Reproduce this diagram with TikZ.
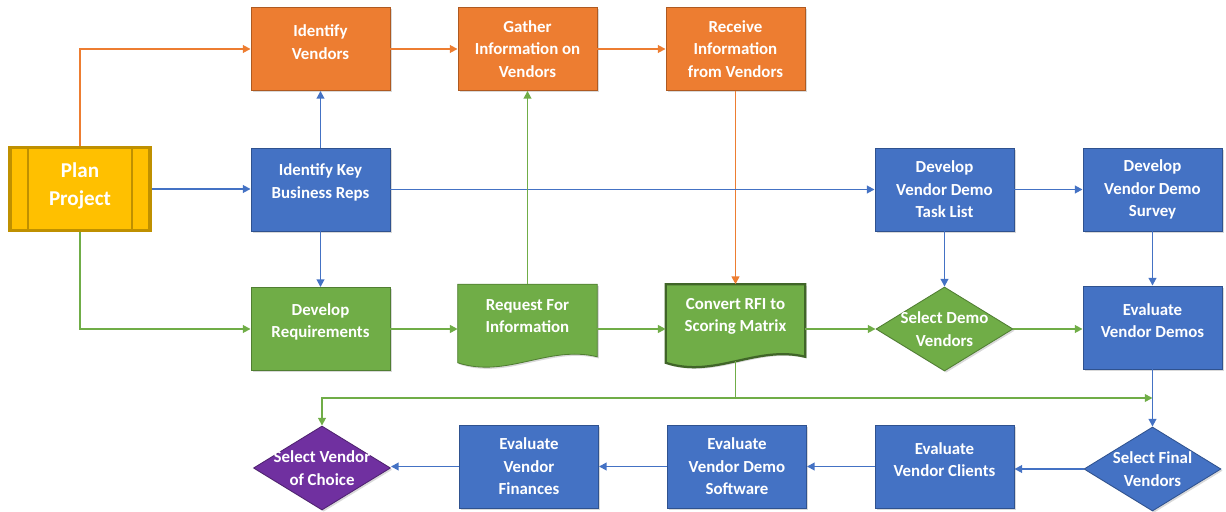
\documentclass[tikz,border=0pt]{standalone}
\usepackage{fontspec}
\setmainfont{Carlito}
\usetikzlibrary{shapes.geometric,arrows.meta,shadows,backgrounds,calc}

\definecolor{vorange}{HTML}{ED7D31}
\definecolor{vorangedk}{HTML}{AE5A21}
\definecolor{vblue}{HTML}{4472C4}
\definecolor{vbluedk}{HTML}{2F528F}
\definecolor{vgreen}{HTML}{70AD47}
\definecolor{vgreendk}{HTML}{507E32}
\definecolor{vgold}{HTML}{FFC000}
\definecolor{vgolddk}{HTML}{BF9000}
\definecolor{vpurple}{HTML}{7030A0}
\definecolor{vpurpledk}{HTML}{4F2270}

\newcommand{\boxfont}{\bfseries\fontsize{12}{16}\selectfont}
% extra space under the text, so that it sits a little above the middle
\newcommand{\liftend}[1]{\par\vspace*{#1}}
% document shape with a wavy bottom edge
\newcommand{\wavybox}[1]{(#1.north west) -- (#1.north east) -- (#1.south east)
	.. controls +(-49,-12) and +(49,16) .. ($(#1.south west)+(0,6)$) -- cycle}

\begin{document}
\begin{tikzpicture}[x=0.025cm, y=-0.025cm,
		>={Triangle[length=5.5pt,width=5.5pt]},
		soft shadow/.style={drop shadow={shadow xshift=1.2pt,shadow yshift=-1.2pt,opacity=.3}},
		lift/.style={text width=3.2cm,align=flush center,execute at end node={\liftend{#1}}},
		box/.style={rectangle,draw,line width=0.6pt,text=white,align=center,font=\boxfont,
			minimum width=3.475cm,minimum height=2.075cm,soft shadow},
		orangebox/.style={box,fill=vorange,draw=vorangedk},
		bluebox/.style={box,fill=vblue,draw=vbluedk},
		greenbox/.style={box,fill=vgreen,draw=vgreendk},
		doc/.style={text=white,align=center,font=\boxfont,minimum width=3.475cm,minimum height=1.8cm,lift=6pt},
		decision/.style={diamond,draw,line width=0.6pt,inner sep=0pt,
			minimum width=3.425cm,minimum height=2.1cm,soft shadow},
		dlabel/.style={text=white,align=center,font=\boxfont},
		plan/.style={rectangle,fill=vgold,draw=vgolddk,line width=2.2pt,text=white,align=center,
			font=\bfseries\fontsize{15}{20}\selectfont,minimum width=3.5cm,minimum height=2.075cm,soft shadow,
			path picture={\draw[vgolddk,line width=2pt]
				([xshift=0.45cm]path picture bounding box.north west) -- ([xshift=0.45cm]path picture bounding box.south west)
				([xshift=-0.45cm]path picture bounding box.north east) -- ([xshift=-0.45cm]path picture bounding box.south east);}},
		oline/.style={vorange,line width=1.2pt,->},
		bline/.style={vblue,line width=1.2pt,->},
		gline/.style={vgreen,line width=1.2pt,->}]
	\useasboundingbox (0,0) rectangle (1226,512);

	% Top row
	\node[orangebox,lift=10pt] (iv) at (320.5,49) {Identify\\Vendors};
	\node[orangebox] (giv) at (527.5,49) {Gather\\Information on\\Vendors};
	\node[orangebox] (rif) at (735.5,49) {Receive\\Information\\from Vendors};
	% Middle row
	\node[plan,lift=5pt] (pp) at (80,189) {Plan\\Project};
	\node[bluebox,lift=10pt] (kbr) at (320.5,189.5) {Identify Key\\Business Reps};
	\node[bluebox] (dtl) at (944.5,189.5) {Develop\\Vendor Demo\\Task List};
	\node[bluebox] (dsv) at (1152.5,189.5) {Develop\\Vendor Demo\\Survey};
	% Lower row
	\node[greenbox,lift=10pt] (dr) at (320.5,329) {Develop\\Requirements};
	\node[doc] (rfi) at (527.5,320.5) {Request For\\Information};
	\node[doc] (crm) at (735.5,320.5) {Convert RFI to\\Scoring Matrix};
	\node[decision,fill=vgreen,draw=vgreendk,label={[dlabel]center:Select Demo\\Vendors}] (sdv) at (944.5,329) {};
	\node[bluebox,lift=10pt] (evd) at (1152.5,327.5) {Evaluate\\Vendor Demos};
	% Bottom row
	\node[decision,fill=vblue,draw=vbluedk,label={[dlabel]center:Select Final\\Vendors}] (sfv) at (1152.5,469) {};
	\node[bluebox,lift=10pt] (evc) at (944.5,466.5) {Evaluate\\Vendor Clients};
	\node[bluebox] (evs) at (737,466.5) {Evaluate\\Vendor Demo\\Software};
	\node[bluebox] (evf) at (529,466.5) {Evaluate\\Vendor\\Finances};
	\node[decision,fill=vpurple,draw=vpurpledk,label={[dlabel]center:Select Vendor\\of Choice}] (svc) at (322,468) {};

	% Document shapes behind their texts
	\begin{scope}[on background layer]
		\filldraw[fill=vgreen,draw=vgreendk,line width=0.6pt,soft shadow] \wavybox{rfi};
		\filldraw[fill=vgreen,draw=vgreendk!80!black,line width=1.6pt,soft shadow] \wavybox{crm};
	\end{scope}

	% Orange connectors
	\draw[oline] (pp.north) |- (iv.west);
	\draw[oline] (iv) -- (giv);
	\draw[oline] (giv) -- (rif);
	\draw[oline] (rif) -- (crm);
	% Blue connectors
	\draw[bline] (pp.east) -- (pp.east -| kbr.west);
	\draw[bline] (kbr) -- (iv);
	\draw[bline] (kbr) -- (dr);
	\draw[bline] (kbr) -- (dtl);
	\draw[bline] (dtl) -- (dsv);
	\draw[bline] (dtl) -- (sdv);
	\draw[bline] (dsv) -- (evd);
	\draw[bline] (evd) -- (sfv);
	\draw[bline] (sfv.west) -- (sfv.west -| evc.east);
	\draw[bline] (evc) -- (evs);
	\draw[bline] (evs) -- (evf);
	\draw[bline] (evf.west) -- (evf.west -| svc.east);
	% Green connectors
	\draw[gline] (pp.south) |- (dr.west);
	\draw[gline] (dr.east) -- (dr.east -| rfi.west);
	\draw[gline] (rfi) -- (giv);
	\draw[gline] (rfi.east |- dr.east) -- (crm.west |- dr.east);
	\draw[gline] (crm.east |- sdv.west) -- (sdv.west);
	\draw[gline] (sdv.east) -- (sdv.east -| evd.west);
	\coordinate (split) at (735.5,398);
	\draw[gline,-] ($(crm.south)+(0,4)$) -- (split);
	\draw[gline] (split) -| (svc.north);
	\draw[gline] (split) -- (split -| evd.south);
\end{tikzpicture}
\end{document}
